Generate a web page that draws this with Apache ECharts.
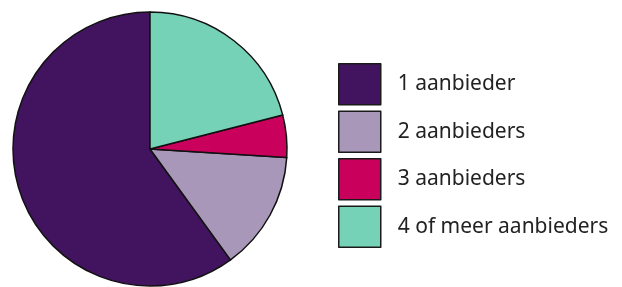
<!DOCTYPE html>
<html>
<head>
<meta charset="utf-8">
<script src="https://cdn.jsdelivr.net/npm/echarts@6/dist/echarts.min.js"></script>
<style>
  html, body { margin: 0; padding: 0; background: #fff; }
  #chart_1 { width: 622px; height: 287px; }
</style>
</head>
<body>
<div id="chart_1"></div>
<script>
// categorieën en aandelen (%)
var categories = ['1 aanbieder', '2 aanbieders', '3 aanbieders', '4 of meer aanbieders'];
var values = [60, 14, 5, 21];
var colors = ['#42145f', '#a897b9', '#ca005d', '#76d2b6'];

var myChart = echarts.init(document.getElementById('chart_1'));
var data = [];
for (var i = 0; i < categories.length; i++) {
    data.push({ value: values[i], name: categories[i], itemStyle: { color: colors[i] } });
}
var option = {
    animation: false,
    legend: {
        orient: 'vertical',
        left: 338,
        top: 63,
        padding: 0,
        icon: 'rect',
        itemWidth: 42,
        itemHeight: 41,
        itemGap: 5,
        itemStyle: { borderColor: '#1a1a1a', borderWidth: 1.5 },
        textStyle: {
            fontFamily: 'Noto Sans',
            fontSize: 21,
            color: '#222',
            padding: [0, 0, 0, 12]
        },
        data: categories
    },
    series: [
        {
            type: 'pie',
            center: [150, 149],
            radius: 137,
            startAngle: 90,
            clockwise: false,
            label: { show: false },
            labelLine: { show: false },
            emphasis: { disabled: true },
            itemStyle: { borderColor: '#111', borderWidth: 1.5 },
            data: data
        }
    ]
};
myChart.setOption(option);
</script>
</body>
</html>
